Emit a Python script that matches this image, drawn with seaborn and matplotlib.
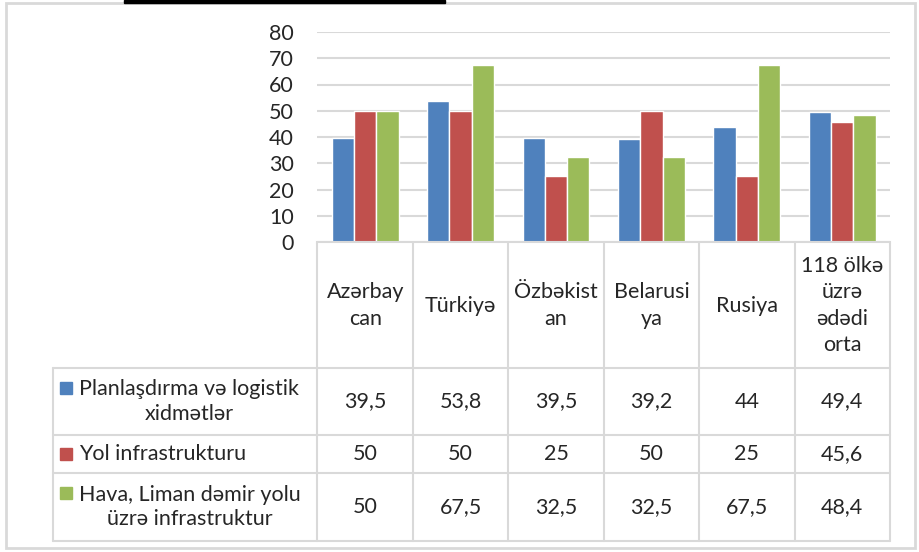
import numpy as np
import pandas as pd
import matplotlib
matplotlib.use("Agg")
import matplotlib.pyplot as plt
from matplotlib.patches import Rectangle
import seaborn as sns

## Data
countries = ["Azərbay\ncan", "Türkiyə", "Özbəkist\nan", "Belarusi\nya", "Rusiya",
             "118 ölkə\nüzrə\nədədi\norta"]
series_names = ["Planlaşdırma və logistik\nxidmətlər",
                "Yol infrastrukturu",
                "Hava, Liman dəmir yolu\nüzrə infrastruktur"]
planlasdirma = [39.5, 53.8, 39.5, 39.2, 44, 49.4]
yol = [50, 50, 25, 50, 25, 45.6]
hava = [50, 67.5, 32.5, 32.5, 67.5, 48.4]
colors = ["#4F81BD", "#C0504D", "#9BBB59"]
yticks = [0, 10, 20, 30, 40, 50, 60, 70, 80]

series_values = [planlasdirma, yol, hava]
rows = []
for name, vals in zip(series_names, series_values):
    for c, v in zip(countries, vals):
        rows.append({"Ölkə": c, "Göstərici": name, "Bal": v})
df = pd.DataFrame(rows)

sns.set_style("white")
plt.rcParams['font.family'] = ['Lato', 'DejaVu Sans']
txt_color = "#262626"
grid_color = "#D9D9D9"
fs = 15.5

W, H = 920, 552
fig = plt.figure(figsize=(W / 100, H / 100), dpi=100)

# plot area in pixels
x0, x1 = 317.5, 890
y_top, y_bot = 32, 242
ax = fig.add_axes([x0 / W, 1 - y_bot / H, (x1 - x0) / W, (y_bot - y_top) / H])
sns.barplot(data=df, x="Ölkə", y="Bal", hue="Göstərici", palette=colors,
            width=0.7, ax=ax, legend=False, saturation=1)
ax.set_xlim(-0.5, len(countries) - 0.5)
ax.set_ylim(0, 80)
ax.set_yticks(yticks)
ax.set_xticks([])
ax.set_xlabel("")
ax.set_ylabel("")
ax.yaxis.grid(True, color=grid_color, lw=1.5)
ax.set_axisbelow(True)
for s in ["left", "right", "top"]:
    ax.spines[s].set_visible(False)
ax.spines["bottom"].set_color(grid_color)
ax.spines["bottom"].set_linewidth(1.5)
ax.tick_params(axis="y", length=0, pad=17, labelsize=fs, labelcolor=txt_color)
ax.patch.set_alpha(0)

## Data table below the chart (pixel coordinates)
axt = fig.add_axes([0, 0, 1, 1], zorder=-1)
axt.set_xlim(0, W)
axt.set_ylim(H, 0)
axt.axis("off")

edges = np.linspace(x0, x1, len(countries) + 1)
centers = (edges[:-1] + edges[1:]) / 2
row_lines = [243, 368, 435, 473, 541]
tbl_left = 53
lw = 1.5

for y in row_lines[1:]:
    axt.plot([tbl_left, x1], [y, y], color=grid_color, lw=lw)
for x in edges:
    axt.plot([x, x], [row_lines[0], row_lines[-1]], color=grid_color, lw=lw)
axt.plot([tbl_left, tbl_left], [row_lines[1], row_lines[-1]], color=grid_color, lw=lw)

line_px = 28
hdr_y = (row_lines[0] + row_lines[1]) / 2
for cx, name in zip(centers, countries):
    axt.text(cx, hdr_y, name, ha="center", va="center", fontsize=fs,
             color=txt_color, linespacing=1.38)

def fmt(v):
    return f"{v:g}".replace(".", ",")

for i, (name, vals, col) in enumerate(zip(series_names, series_values, colors)):
    ry = (row_lines[i + 1] + row_lines[i + 2]) / 2
    nlines = name.count("\n") + 1
    first_y = ry - (nlines - 1) / 2 * line_px
    axt.add_patch(Rectangle((60, first_y - 6), 12, 12, color=col))
    axt.text(79, ry, name, ha="left", va="center", multialignment="center",
             fontsize=fs, color=txt_color, linespacing=1.28)
    for cx, v in zip(centers, vals):
        axt.text(cx, ry, fmt(v), ha="center", va="center", fontsize=fs, color=txt_color)

# outer frame and top bar
axt.add_patch(Rectangle((6, 3), 909, 545, fill=False, ec=grid_color, lw=2))
axt.add_patch(Rectangle((124, 0), 321, 3, color="black"))

fig.savefig("out.png", dpi=100)
